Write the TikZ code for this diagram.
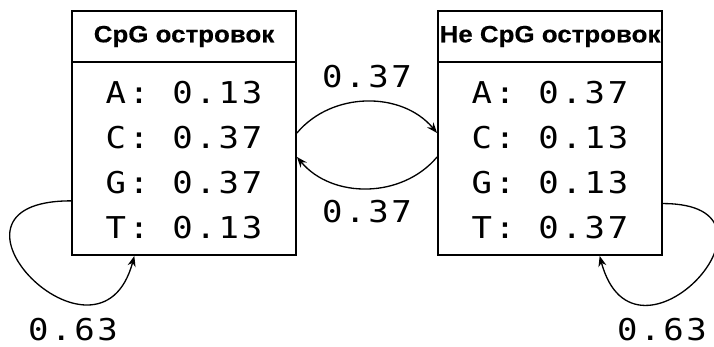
\documentclass[tikz,border=0pt]{standalone}
\usepackage{fontspec}
\usetikzlibrary{arrows.meta, positioning}
\newfontfamily\headfont[FakeStretch=1.1, BoldFeatures={FakeBold=0.4}]{Liberation Sans}
\newfontfamily\cellfont[FakeStretch=1.13, LetterSpace=9]{DejaVu Sans Mono}

\begin{document}
\begin{tikzpicture}[x=0.02cm, y=0.02cm, >={Stealth[length=6pt, width=4.6pt]},
    statebox/.style={draw, line width=1.1pt, minimum width=4.48cm, minimum height=4.88cm, inner sep=0pt},
    headbox/.style={draw, line width=1.1pt, minimum width=4.48cm, minimum height=1.02cm, inner sep=0pt,
        font=\headfont\bfseries\fontsize{13.4}{16}\selectfont},
    emission/.style={align=center, inner sep=0pt, font=\cellfont\fontsize{17.1}{25.5}\selectfont},
    prob/.style={inner sep=0pt, font=\cellfont\fontsize{17.1}{20}\selectfont},
    trans/.style={->, line width=0.75pt}]
    \useasboundingbox (0,0) rectangle (714,347);

    % состояния
    \node[statebox] (cpg) at (184,214) {};
    \node[headbox, below=0pt of cpg.north] (cpghead) {CpG островок};
    \node[emission, below=0.36cm of cpghead] (cpgtext) {A: 0.13\\C: 0.37\\G: 0.37\\T: 0.13};

    \node[statebox] (noncpg) at (550,214) {};
    \node[headbox, below=0pt of noncpg.north] (noncpghead) {Не CpG островок};
    \node[emission, below=0.36cm of noncpghead] (noncpgtext) {A: 0.37\\C: 0.13\\G: 0.13\\T: 0.37};

    % переходы
    \draw[trans] (cpg.east) to[out=50, in=130] (noncpg.west);
    \draw[trans] (noncpg.192.6) to[out=230, in=310] (cpg.-12.6);
    \draw[trans] (cpg.211.6) .. controls +(180:155) and +(255:135) .. (cpg.248.4);
    \draw[trans] (noncpg.328.4) .. controls +(0:140) and +(285:135) .. (noncpg.292);

    % вероятности
    \node[prob] (p12) at (367,270) {0.37};
    \node[prob] (p21) at (367,135.5) {0.37};
    \node[prob] (p11) at (73,17.5) {0.63};
    \node[prob] (p22) at (662,17.5) {0.63};
\end{tikzpicture}
\end{document}
